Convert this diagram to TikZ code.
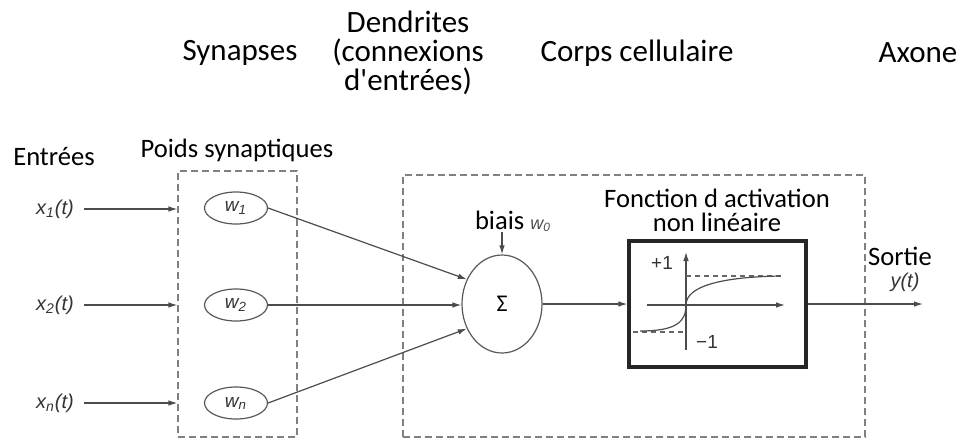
\documentclass[tikz,border=0pt]{standalone}
\usepackage{fontspec}
\setmainfont{Carlito}
\newfontfamily\lblfont{Liberation Sans}
\usetikzlibrary{shapes.geometric,arrows.meta}

\begin{document}
\begin{tikzpicture}[x=0.5pt,y=-0.5pt,
    titre/.style={font=\fontsize{15.5}{14.5}\selectfont, align=center, inner sep=0pt},
    lbl/.style={font=\fontsize{13.3}{12}\selectfont, align=center, inner sep=0pt},
    var/.style={font=\lblfont\itshape\fontsize{10}{12}\selectfont, text=black!80, inner sep=1pt},
    poids/.style={ellipse, draw=black!65, line width=0.6pt, minimum width=31.5pt, minimum height=16pt, inner sep=0pt, font=\lblfont\itshape\fontsize{9.5}{10}\selectfont, text=black!80},
    dashbox/.style={draw=black!50, line width=0.6pt, dash pattern=on 3.5pt off 2pt, inner sep=0pt},
    fleche/.style={draw=black!70, line width=0.6pt, -{Latex[length=4.5pt,width=2.8pt]}},
    trait/.style={draw=black!70, line width=0.6pt}]
    \useasboundingbox (0,0) rectangle (962,440);
    \node[titre] (synapses) at (240,53) {Synapses};
    \node[titre] (dendrites) at (408,53) {Dendrites\\(connexions\\d\textquotesingle entrées)};
    \node[titre] (corps) at (637,53) {Corps cellulaire};
    \node[titre] (axone) at (918,53) {Axone};
    \node[lbl] (entrees) at (54,157) {Entrées};
    \node[lbl] (poidstxt) at (237,150) {Poids synaptiques};
    \node[dashbox, minimum width=59.5pt, minimum height=133pt] (synbox) at (237.5,304) {};
    \node[dashbox, minimum width=231pt, minimum height=131pt] (bigbox) at (634,306) {};
    \node[var] (x1) at (55,209) {x\textsubscript{1}(t)};
    \node[var] (x2) at (55,305) {x\textsubscript{2}(t)};
    \node[var] (xn) at (55,403) {x\textsubscript{n}(t)};
    \node[poids] (w1) at (236,208) {w\textsubscript{1}};
    \node[poids] (w2) at (236,305) {w\textsubscript{2}};
    \node[poids] (wn) at (236,403) {w\textsubscript{n}};
    \draw[fleche, shorten <=4pt] (x1) -- (synbox.west |- x1);
    \draw[fleche, shorten <=4pt] (x2) -- (synbox.west |- x2);
    \draw[fleche, shorten <=4pt] (xn) -- (synbox.west |- xn);
    \node[ellipse, draw=black!65, line width=0.6pt, minimum width=40pt, minimum height=49pt, inner sep=0pt, font=\fontsize{12}{12}\selectfont] (sum) at (502,304) {Σ};
    \node[lbl] (biais) at (513,221) {biais {\lblfont\itshape\fontsize{9}{9}\selectfont\color{black!70}w\textsubscript{0}}};
    \draw[fleche] (sum.north |- biais.south) -- (sum.north);
    \draw[fleche] (w1.east) -- (sum.145);
    \draw[fleche] (w2.east) -- (sum.west |- w2.east);
    \draw[fleche] (wn.east) -- (sum.215);
    \node[lbl] (fonction) at (717,210) {Fonction d activation\\non linéaire};
    \node[draw=black!85, line width=1.6pt, minimum width=88.5pt, minimum height=63pt] (act) at (717.5,304) {};
    \draw[fleche] (sum.east) -- (act.west |- sum.east);
    \draw[fleche] (647,305) -- (785,305);
    \draw[fleche] (686,350) -- (686,252);
    \draw[draw=black!60, line width=0.6pt, dash pattern=on 2.5pt off 2pt] (686,276) -- (783,276);
    \draw[draw=black!60, line width=0.6pt, dash pattern=on 2.5pt off 2pt] (633,332) -- (686,332);
    \draw[trait] (640,331) .. controls (676,331) and (686,322) .. (686,305) .. controls (686,286) and (722,277) .. (780,276);
    \node[font=\lblfont\fontsize{9.5}{10}\selectfont, text=black!80] (plus) at (662,263) {+1};
    \node[font=\lblfont\fontsize{9.5}{10}\selectfont, text=black!80] (moins) at (707,342) {−1};
    \coordinate (yout) at (923,304);
    \draw[fleche] (act.east) -- (yout);
    \fill[black!70] (bigbox.east |- act.east) circle (1.3);
    \node[lbl] (sortie) at (900,256) {Sortie};
    \node[var] (yt) at (905,282) {y(t)};
\end{tikzpicture}
\end{document}
